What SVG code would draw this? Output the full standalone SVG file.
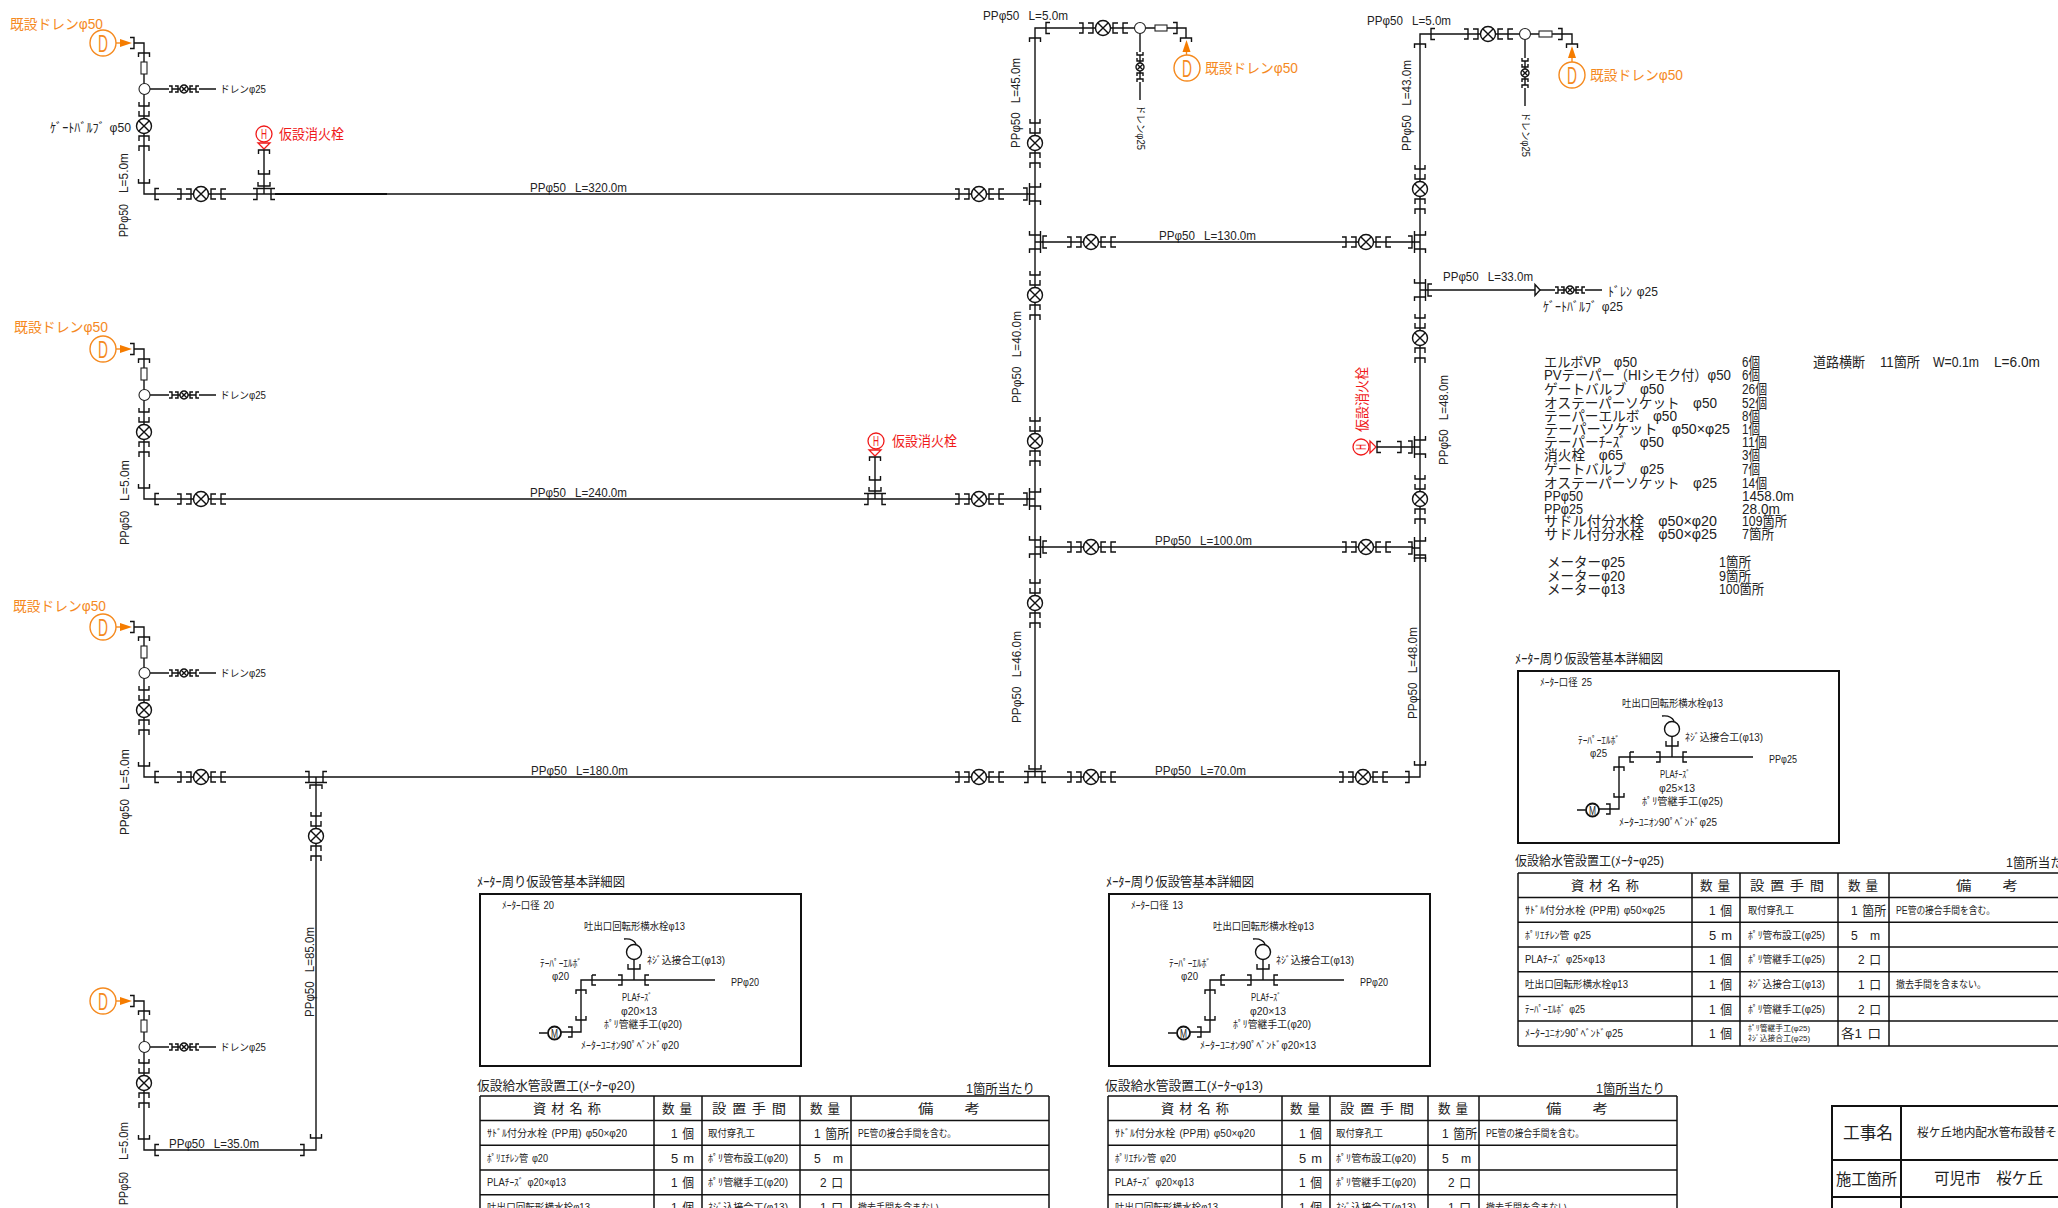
<svg xmlns="http://www.w3.org/2000/svg" width="2058" height="1208" viewBox="0 0 2058 1208">
<style>
text{font-family:"Liberation Sans","Noto Sans CJK JP",sans-serif;fill:#222;dominant-baseline:central;font-size:13px;white-space:pre;word-spacing:1.5px}
.k{fill:none;stroke:#111;stroke-width:1.4}
.w{fill:#fff;stroke:#222;stroke-width:1.1}
.o{fill:none;stroke:#f58a1f;stroke-width:1.4}
.of{fill:#f57c00}
.or{fill:#f58a1f;font-size:14px}
.rd{fill:none;stroke:#f01a1a;stroke-width:1.3}
.red{fill:#f01a1a;font-size:14px}
.s{font-size:10px}
.m{font-size:14px}
.dd{font-size:24px;fill:#f58a1f}
.hh{font-size:14px;fill:#f01a1a}
.mm{font-size:13px}
.f{fill:none;stroke:#111;stroke-width:1.5}
.b{fill:none;stroke:#111;stroke-width:2}
</style>
<defs>
<path id="b" class="k" d="M4 -5.5H0V5.5H4"/>
<g id="v">
<path class="k" d="M-24 -5H-20V5H-24M-15 -5H-10V5H-15M-20 0H-7.5M7.5 0H20M15 -5H10V5H15M25 -5H20V5H25"/>
<circle class="k" r="7.5" style="fill:#fff"/><path class="k" d="M-5.3 -5.3L5.3 5.3M-5.3 5.3L5.3 -5.3"/>
</g>
<g id="vs">
<path class="k" d="M-15 -3H-12V3H-15M-9 -3H-6V3H-9M-12 0H-4M4 0H12M9 -3H6V3H9M15 -3H12V3H15"/>
<circle class="k" r="4" style="fill:#fff"/><path class="k" d="M-2.8 -2.8L2.8 2.8M-2.8 2.8L2.8 -2.8"/>
</g>
<path id="tee" class="k" d="M-11 -5.5H-7V5.5H-11M11 -5.5H7V5.5H11M-7 0H7M-7 -5.5H7M0 0V-8M-6 -12V-8H6V-12"/>
<g id="head">
<circle class="o" cx="-41" r="13"/>
<path class="o" d="M-28 0H-22"/><path class="of" d="M-24 -4L-12 0L-24 4Z"/>
<use href="#b" transform="translate(-10,0) rotate(180)"/>
<use href="#b" transform="translate(0,10) rotate(90)"/>
<path class="k" d="M-10 0H0V19M0 31V41M0 51V63"/>
<rect class="w" x="-3" y="19" width="6" height="12"/>
<circle class="w" cx="0.5" cy="46" r="5.5"/>
</g>
<g id="art">
<rect class="b" width="321" height="172"/>
<circle class="k" cx="154" cy="58" r="7.5"/>
<path class="k" d="M144 45Q153 44 156 50M154 65.5V86M148 70V75H160V70M101 98V86H165M112 81H116M165 86H235M112 81V91H116M138 81H142V91H138M169 81H165V91H169M96 100V96H106V100M101 96V138H88M96 122V126H106V122M88 133H92V143H88M81 138H88M59 139H67.5"/>
<circle class="k" cx="74.500" cy="139" r="6.500" style="stroke-width:1.800"/>
</g>
<g id="tbl">
<path class="f" d="M0 0H569M0 24.500H569M0 49.200H569M0 74H569M0 98.700H569M0 123.400H569M0 148H569M0 173H569M0 0V173M174 0V173M222 0V173M320 0V173M371 0V173M569 0V173"/>
</g>
<g id="tblh">
<text x="53" y="12.500" textLength="68" lengthAdjust="spacingAndGlyphs">資 材 名 称</text>
<text x="182" y="12.500" textLength="30" lengthAdjust="spacingAndGlyphs">数 量</text>
<text x="232" y="12.500" textLength="74" lengthAdjust="spacingAndGlyphs">設 置 手 間</text>
<text x="330" y="12.500" textLength="30" lengthAdjust="spacingAndGlyphs">数 量</text>
<text x="438" y="12.500" textLength="62" lengthAdjust="spacingAndGlyphs">備　　考</text>
</g>
</defs>

<g id="connectors">
<path class="k" d="M144 146V194H181M221 194H257M271 194H959M999 194H1028
M144 452V499H181M221 499H868M882 499H959M999 499H1028
M144 730V777H181M221 777H309M323 777H959M999 777H1028M1042 777H1071M1111 777H1343M1383 777H1420V555
M144 1103V1150H316V856M316 816V785
M1042 242H1071M1111 242H1346M1386 242H1413
M1042 547H1071M1111 547H1346M1386 547H1413
M1035 123V28H1083M1123 28H1134.500M1145.500 28H1155M1167 28H1186V38M1140 33V52M1140 82V100
M1035 163V187M1035 201V235M1035 249V275M1035 315V421M1035 461V492M1035 506V540M1035 554V583M1035 623V769
M1420 169V34H1468M1508 34H1519.500M1530.500 34H1539M1552 34H1572V44M1525 39.500V58M1525 88V106
M1420 209V235M1420 249V283M1420 297V318M1420 358V440M1420 454V479M1420 519V541
M1428 290H1535M1540 290H1555M1585 290H1602
M150 89H169M199 89H216M150 395H169M199 395H216M150 673H169M199 673H216M150 1047H169M199 1047H216
M264 150V186M875 457V491M1377 447H1412"/>
<path class="b" d="M275 194H387"/>
</g>

<g id="head1" transform="translate(144,43)"><use href="#head"/><text class="dd" x="-46" y="0" textLength="10" lengthAdjust="spacingAndGlyphs">D</text></g>
<g id="head2" transform="translate(144,349)"><use href="#head"/><text class="dd" x="-46" y="0" textLength="10" lengthAdjust="spacingAndGlyphs">D</text></g>
<g id="head3" transform="translate(144,627)"><use href="#head"/><text class="dd" x="-46" y="0" textLength="10" lengthAdjust="spacingAndGlyphs">D</text></g>
<g id="head4" transform="translate(144,1001)"><use href="#head"/><text class="dd" x="-46" y="0" textLength="10" lengthAdjust="spacingAndGlyphs">D</text></g>

<g id="head5">
<use href="#b" transform="translate(1177,28) rotate(180)"/><use href="#b" transform="translate(1186,38) rotate(90)"/>
<rect class="w" x="1155" y="25" width="12" height="6"/><circle class="w" cx="1140" cy="28" r="5.500"/>
<path class="o" d="M1186.500 50V55"/><path class="of" d="M1182.500 52L1186.500 40L1190.500 52Z"/>
<circle class="o" cx="1187" cy="68" r="13"/><text class="dd" x="1182" y="68" textLength="10" lengthAdjust="spacingAndGlyphs">D</text>
</g>
<g id="head6">
<use href="#b" transform="translate(1562,34) rotate(180)"/><use href="#b" transform="translate(1572,44) rotate(90)"/>
<rect class="w" x="1539" y="31" width="13" height="6"/><circle class="w" cx="1525" cy="34" r="5.500"/>
<path class="o" d="M1572 56V62"/><path class="of" d="M1568 58L1572 46L1576 58Z"/>
<circle class="o" cx="1572" cy="75" r="13"/><text class="dd" x="1567" y="75" textLength="10" lengthAdjust="spacingAndGlyphs">D</text>
</g>

<g id="valves">
<use href="#v" transform="translate(201,194)"/><use href="#v" transform="translate(979,194)"/>
<use href="#v" transform="translate(1091,242)"/><use href="#v" transform="translate(1366,242)"/>
<use href="#v" transform="translate(201,499)"/><use href="#v" transform="translate(979,499)"/>
<use href="#v" transform="translate(1091,547)"/><use href="#v" transform="translate(1366,547)"/>
<use href="#v" transform="translate(201,777)"/><use href="#v" transform="translate(979,777)"/>
<use href="#v" transform="translate(1091,777)"/><use href="#v" transform="translate(1363,777)"/>
<use href="#v" transform="translate(1103,28)"/><use href="#v" transform="translate(1488,34)"/>
<use href="#v" transform="translate(144,126) rotate(90)"/><use href="#v" transform="translate(144,432) rotate(90)"/>
<use href="#v" transform="translate(144,710) rotate(90)"/><use href="#v" transform="translate(144,1083) rotate(90)"/>
<use href="#v" transform="translate(1035,143) rotate(90)"/><use href="#v" transform="translate(1035,295) rotate(90)"/>
<use href="#v" transform="translate(1035,441) rotate(90)"/><use href="#v" transform="translate(1035,603) rotate(90)"/>
<use href="#v" transform="translate(316,836) rotate(90)"/><use href="#v" transform="translate(1420,189) rotate(90)"/>
<use href="#v" transform="translate(1420,338) rotate(90)"/><use href="#v" transform="translate(1420,499) rotate(90)"/>
<use href="#vs" transform="translate(184,89)"/><use href="#vs" transform="translate(184,395)"/>
<use href="#vs" transform="translate(184,673)"/><use href="#vs" transform="translate(184,1047)"/>
<use href="#vs" transform="translate(1570,290)"/><use href="#vs" transform="translate(1140,67) rotate(90)"/>
<use href="#vs" transform="translate(1525,73) rotate(90)"/>
<path class="k" d="M1535 284.500L1540 290L1535 295.500Z"/>
</g>

<g id="tees">
<use href="#tee" transform="translate(264,194)"/><use href="#tee" transform="translate(1035,194) rotate(-90)"/>
<use href="#tee" transform="translate(1035,242) rotate(90)"/><use href="#tee" transform="translate(1420,242) rotate(-90)"/>
<use href="#tee" transform="translate(1420,290) rotate(90)"/><use href="#tee" transform="translate(875,499)"/>
<use href="#tee" transform="translate(1035,499) rotate(-90)"/><use href="#tee" transform="translate(1035,547) rotate(90)"/>
<use href="#tee" transform="translate(1420,447) rotate(-90)"/><use href="#tee" transform="translate(1420,548) rotate(-90)"/>
<use href="#tee" transform="translate(316,777) rotate(180)"/><use href="#tee" transform="translate(1035,777)"/>
</g>

<g id="sockets">
<use href="#b" transform="translate(155,194)"/><use href="#b" transform="translate(144,183) rotate(-90)"/>
<use href="#b" transform="translate(155,499)"/><use href="#b" transform="translate(144,488) rotate(-90)"/>
<use href="#b" transform="translate(155,777)"/><use href="#b" transform="translate(144,766) rotate(-90)"/>
<use href="#b" transform="translate(155,1150)"/><use href="#b" transform="translate(144,1139) rotate(-90)"/>
<use href="#b" transform="translate(304,1150) rotate(180)"/><use href="#b" transform="translate(316,1138) rotate(-90)"/>
<use href="#b" transform="translate(1046,28)"/><use href="#b" transform="translate(1035,38) rotate(90)"/>
<use href="#b" transform="translate(1431,34)"/><use href="#b" transform="translate(1420,44) rotate(90)"/>
<use href="#b" transform="translate(1409,777) rotate(180)"/><use href="#b" transform="translate(1420,765) rotate(-90)"/>
<use href="#b" transform="translate(1420,558) rotate(90)"/>
</g>

<g id="hydrant1">
<circle class="rd" cx="264" cy="134" r="8"/><text class="hh" x="261" y="134" textLength="6" lengthAdjust="spacingAndGlyphs">H</text>
<path class="rd" d="M258 143H270L264 149Z"/>
<use href="#b" transform="translate(264,150) rotate(90)"/><use href="#b" transform="translate(264,174) rotate(-90)"/>
</g>
<g id="hydrant2">
<circle class="rd" cx="876" cy="441" r="8"/><text class="hh" x="873" y="441" textLength="6" lengthAdjust="spacingAndGlyphs">H</text>
<path class="rd" d="M869 450H881L875 456Z"/>
<use href="#b" transform="translate(875,457) rotate(90)"/><use href="#b" transform="translate(875,480) rotate(-90)"/>
</g>
<g id="hydrant3">
<circle class="rd" cx="1361" cy="447" r="8"/><text class="hh" transform="translate(1361,450) rotate(-90)" textLength="6" lengthAdjust="spacingAndGlyphs">H</text>
<path class="rd" d="M1370 441V453L1376 447Z"/>
<use href="#b" transform="translate(1377,447)"/><use href="#b" transform="translate(1401,447) rotate(180)"/>
</g>

<g id="labels-pipe">
<text x="10" y="24" class="or" textLength="93" lengthAdjust="spacingAndGlyphs">既設ドレンφ50</text>
<text x="14" y="327" class="or" textLength="94" lengthAdjust="spacingAndGlyphs">既設ドレンφ50</text>
<text x="13" y="606" class="or" textLength="93" lengthAdjust="spacingAndGlyphs">既設ドレンφ50</text>
<text x="1205" y="68" class="or" textLength="93" lengthAdjust="spacingAndGlyphs">既設ドレンφ50</text>
<text x="1590" y="75" class="or" textLength="93" lengthAdjust="spacingAndGlyphs">既設ドレンφ50</text>
<text x="279" y="134" class="red" textLength="65" lengthAdjust="spacingAndGlyphs">仮設消火栓</text>
<text x="892" y="441" class="red" textLength="65" lengthAdjust="spacingAndGlyphs">仮設消火栓</text>
<text transform="translate(1362,432) rotate(-90)" class="red" textLength="65" lengthAdjust="spacingAndGlyphs">仮設消火栓</text>

<text x="50" y="127" textLength="81" lengthAdjust="spacingAndGlyphs">ｹﾞｰﾄﾊﾞﾙﾌﾞ φ50</text>
<text x="220" y="89" class="s" textLength="46" lengthAdjust="spacingAndGlyphs">ドレンφ25</text>
<text x="220" y="395" class="s" textLength="46" lengthAdjust="spacingAndGlyphs">ドレンφ25</text>
<text x="220" y="673" class="s" textLength="46" lengthAdjust="spacingAndGlyphs">ドレンφ25</text>
<text x="220" y="1047" class="s" textLength="46" lengthAdjust="spacingAndGlyphs">ドレンφ25</text>
<text transform="translate(1140,105) rotate(90)" class="s" textLength="45" lengthAdjust="spacingAndGlyphs">ドレンφ25</text>
<text transform="translate(1525,112) rotate(90)" class="s" textLength="45" lengthAdjust="spacingAndGlyphs">ドレンφ25</text>
<text x="1608" y="291" textLength="50" lengthAdjust="spacingAndGlyphs">ﾄﾞﾚﾝ φ25</text>
<text x="1543" y="306" textLength="80" lengthAdjust="spacingAndGlyphs">ｹﾞｰﾄﾊﾞﾙﾌﾞ φ25</text>

<text x="530" y="187" textLength="97" lengthAdjust="spacingAndGlyphs">PPφ50  L=320.0m</text>
<text x="530" y="492" textLength="97" lengthAdjust="spacingAndGlyphs">PPφ50  L=240.0m</text>
<text x="531" y="770" textLength="97" lengthAdjust="spacingAndGlyphs">PPφ50  L=180.0m</text>
<text x="1159" y="235" textLength="97" lengthAdjust="spacingAndGlyphs">PPφ50  L=130.0m</text>
<text x="1155" y="540" textLength="97" lengthAdjust="spacingAndGlyphs">PPφ50  L=100.0m</text>
<text x="1155" y="770" textLength="91" lengthAdjust="spacingAndGlyphs">PPφ50  L=70.0m</text>
<text x="169" y="1143" textLength="90" lengthAdjust="spacingAndGlyphs">PPφ50  L=35.0m</text>
<text x="983" y="15" textLength="85" lengthAdjust="spacingAndGlyphs">PPφ50  L=5.0m</text>
<text x="1367" y="20" textLength="84" lengthAdjust="spacingAndGlyphs">PPφ50  L=5.0m</text>
<text x="1443" y="276" textLength="90" lengthAdjust="spacingAndGlyphs">PPφ50  L=33.0m</text>

<text transform="translate(1015,148) rotate(-90)" textLength="90" lengthAdjust="spacingAndGlyphs">PPφ50  L=45.0m</text>
<text transform="translate(1016,403) rotate(-90)" textLength="92" lengthAdjust="spacingAndGlyphs">PPφ50  L=40.0m</text>
<text transform="translate(1016,723) rotate(-90)" textLength="92" lengthAdjust="spacingAndGlyphs">PPφ50  L=46.0m</text>
<text transform="translate(1406,151) rotate(-90)" textLength="91" lengthAdjust="spacingAndGlyphs">PPφ50  L=43.0m</text>
<text transform="translate(1443,465) rotate(-90)" textLength="90" lengthAdjust="spacingAndGlyphs">PPφ50  L=48.0m</text>
<text transform="translate(1412,719) rotate(-90)" textLength="92" lengthAdjust="spacingAndGlyphs">PPφ50  L=48.0m</text>
<text transform="translate(309,1017) rotate(-90)" textLength="90" lengthAdjust="spacingAndGlyphs">PPφ50  L=85.0m</text>

<text transform="translate(123,193) rotate(-90)" textLength="40" lengthAdjust="spacingAndGlyphs">L=5.0m</text>
<text transform="translate(123,237) rotate(-90)" textLength="33" lengthAdjust="spacingAndGlyphs">PPφ50</text>
<text transform="translate(124,501) rotate(-90)" textLength="41" lengthAdjust="spacingAndGlyphs">L=5.0m</text>
<text transform="translate(124,545) rotate(-90)" textLength="34" lengthAdjust="spacingAndGlyphs">PPφ50</text>
<text transform="translate(124,790) rotate(-90)" textLength="41" lengthAdjust="spacingAndGlyphs">L=5.0m</text>
<text transform="translate(124,835) rotate(-90)" textLength="36" lengthAdjust="spacingAndGlyphs">PPφ50</text>
<text transform="translate(123,1160) rotate(-90)" textLength="38" lengthAdjust="spacingAndGlyphs">L=5.0m</text>
<text transform="translate(123,1205) rotate(-90)" textLength="33" lengthAdjust="spacingAndGlyphs">PPφ50</text>
</g>

<g id="bill">
<text class="m" x="1544" y="362" textLength="93" lengthAdjust="spacingAndGlyphs">エルボVP　φ50</text>
<text class="m" x="1544" y="375" textLength="187" lengthAdjust="spacingAndGlyphs">PVテーパー（HIシモク付）φ50</text>
<text class="m" x="1544" y="388.500" textLength="120" lengthAdjust="spacingAndGlyphs">ゲートバルブ　φ50</text>
<text class="m" x="1544" y="403" textLength="173" lengthAdjust="spacingAndGlyphs">オステーパーソケット　φ50</text>
<text class="m" x="1544" y="416" textLength="133" lengthAdjust="spacingAndGlyphs">テーパーエルボ　φ50</text>
<text class="m" x="1544" y="429" textLength="186" lengthAdjust="spacingAndGlyphs">テーパーソケット　φ50×φ25</text>
<text class="m" x="1544" y="442" textLength="120" lengthAdjust="spacingAndGlyphs">テーパーﾁｰｽﾞ　φ50</text>
<text class="m" x="1544" y="455" textLength="79" lengthAdjust="spacingAndGlyphs">消火栓　φ65</text>
<text class="m" x="1544" y="468.500" textLength="120" lengthAdjust="spacingAndGlyphs">ゲートバルブ　φ25</text>
<text class="m" x="1544" y="483" textLength="173" lengthAdjust="spacingAndGlyphs">オステーパーソケット　φ25</text>
<text class="m" x="1544" y="496" textLength="39" lengthAdjust="spacingAndGlyphs">PPφ50</text>
<text class="m" x="1544" y="509" textLength="39" lengthAdjust="spacingAndGlyphs">PPφ25</text>
<text class="m" x="1544" y="521" textLength="173" lengthAdjust="spacingAndGlyphs">サドル付分水栓　φ50×φ20</text>
<text class="m" x="1544" y="534" textLength="173" lengthAdjust="spacingAndGlyphs">サドル付分水栓　φ50×φ25</text>
<text class="m" x="1742" y="362" textLength="18" lengthAdjust="spacingAndGlyphs">6個</text>
<text class="m" x="1742" y="375" textLength="18" lengthAdjust="spacingAndGlyphs">6個</text>
<text class="m" x="1742" y="388.500" textLength="25" lengthAdjust="spacingAndGlyphs">26個</text>
<text class="m" x="1742" y="403" textLength="25" lengthAdjust="spacingAndGlyphs">52個</text>
<text class="m" x="1742" y="416" textLength="18" lengthAdjust="spacingAndGlyphs">8個</text>
<text class="m" x="1742" y="429" textLength="18" lengthAdjust="spacingAndGlyphs">1個</text>
<text class="m" x="1742" y="442" textLength="25" lengthAdjust="spacingAndGlyphs">11個</text>
<text class="m" x="1742" y="455" textLength="18" lengthAdjust="spacingAndGlyphs">3個</text>
<text class="m" x="1742" y="468.500" textLength="18" lengthAdjust="spacingAndGlyphs">7個</text>
<text class="m" x="1742" y="483" textLength="25" lengthAdjust="spacingAndGlyphs">14個</text>
<text class="m" x="1742" y="496" textLength="52" lengthAdjust="spacingAndGlyphs">1458.0m</text>
<text class="m" x="1742" y="509" textLength="38" lengthAdjust="spacingAndGlyphs">28.0m</text>
<text class="m" x="1742" y="521" textLength="45" lengthAdjust="spacingAndGlyphs">109箇所</text>
<text class="m" x="1742" y="534" textLength="32" lengthAdjust="spacingAndGlyphs">7箇所</text>
<text class="m" x="1813" y="362" textLength="52" lengthAdjust="spacingAndGlyphs">道路横断</text>
<text class="m" x="1880" y="362" textLength="40" lengthAdjust="spacingAndGlyphs">11箇所</text>
<text class="m" x="1933" y="362" textLength="46" lengthAdjust="spacingAndGlyphs">W=0.1m</text>
<text class="m" x="1994" y="362" textLength="46" lengthAdjust="spacingAndGlyphs">L=6.0m</text>
<text class="m" x="1547" y="562" textLength="78" lengthAdjust="spacingAndGlyphs">メーターφ25</text>
<text class="m" x="1547" y="576" textLength="78" lengthAdjust="spacingAndGlyphs">メーターφ20</text>
<text class="m" x="1547" y="589" textLength="78" lengthAdjust="spacingAndGlyphs">メーターφ13</text>
<text class="m" x="1719" y="562" textLength="32" lengthAdjust="spacingAndGlyphs">1箇所</text>
<text class="m" x="1719" y="576" textLength="32" lengthAdjust="spacingAndGlyphs">9箇所</text>
<text class="m" x="1719" y="589" textLength="45" lengthAdjust="spacingAndGlyphs">100箇所</text>
</g>

<g id="detail25" transform="translate(1518,671)">
<text x="-3" y="-13" textLength="148" lengthAdjust="spacingAndGlyphs">ﾒｰﾀｰ周り仮設管基本詳細図</text>
<use href="#art"/>
<text class="mm" x="71" y="139" textLength="7" lengthAdjust="spacingAndGlyphs">M</text>
<text class="s" x="22" y="11" textLength="52" lengthAdjust="spacingAndGlyphs">ﾒｰﾀｰ口径 25</text>
<text class="s" x="104" y="32" textLength="101" lengthAdjust="spacingAndGlyphs">吐出口回転形横水栓φ13</text>
<text class="s" x="60" y="69" textLength="42" lengthAdjust="spacingAndGlyphs">ﾃｰﾊﾟｰｴﾙﾎﾞ</text>
<text class="s" x="72" y="82" textLength="17" lengthAdjust="spacingAndGlyphs">φ25</text>
<text class="s" x="167" y="66" textLength="78" lengthAdjust="spacingAndGlyphs">ﾈｼﾞ込接合工(φ13)</text>
<text class="s" x="142" y="103" textLength="30" lengthAdjust="spacingAndGlyphs">PLAﾁｰｽﾞ</text>
<text class="s" x="141" y="117" textLength="36" lengthAdjust="spacingAndGlyphs">φ25×13</text>
<text class="s" x="124" y="130" textLength="81" lengthAdjust="spacingAndGlyphs">ﾎﾟﾘ管継手工(φ25)</text>
<text class="s" x="101" y="151" textLength="98" lengthAdjust="spacingAndGlyphs">ﾒｰﾀｰﾕﾆｵﾝ90ﾟﾍﾞﾝﾄﾞφ25</text>
<text class="s" x="251" y="88" textLength="28" lengthAdjust="spacingAndGlyphs">PPφ25</text>
</g>
<g id="detail20" transform="translate(480,894)">
<text x="-3" y="-13" textLength="148" lengthAdjust="spacingAndGlyphs">ﾒｰﾀｰ周り仮設管基本詳細図</text>
<use href="#art"/>
<text class="mm" x="71" y="139" textLength="7" lengthAdjust="spacingAndGlyphs">M</text>
<text class="s" x="22" y="11" textLength="52" lengthAdjust="spacingAndGlyphs">ﾒｰﾀｰ口径 20</text>
<text class="s" x="104" y="32" textLength="101" lengthAdjust="spacingAndGlyphs">吐出口回転形横水栓φ13</text>
<text class="s" x="60" y="69" textLength="42" lengthAdjust="spacingAndGlyphs">ﾃｰﾊﾟｰｴﾙﾎﾞ</text>
<text class="s" x="72" y="82" textLength="17" lengthAdjust="spacingAndGlyphs">φ20</text>
<text class="s" x="167" y="66" textLength="78" lengthAdjust="spacingAndGlyphs">ﾈｼﾞ込接合工(φ13)</text>
<text class="s" x="142" y="103" textLength="30" lengthAdjust="spacingAndGlyphs">PLAﾁｰｽﾞ</text>
<text class="s" x="141" y="117" textLength="36" lengthAdjust="spacingAndGlyphs">φ20×13</text>
<text class="s" x="124" y="130" textLength="78" lengthAdjust="spacingAndGlyphs">ﾎﾟﾘ管継手工(φ20)</text>
<text class="s" x="101" y="151" textLength="98" lengthAdjust="spacingAndGlyphs">ﾒｰﾀｰﾕﾆｵﾝ90ﾟﾍﾞﾝﾄﾞφ20</text>
<text class="s" x="251" y="88" textLength="28" lengthAdjust="spacingAndGlyphs">PPφ20</text>
</g>
<g id="detail13" transform="translate(1109,894)">
<text x="-3" y="-13" textLength="148" lengthAdjust="spacingAndGlyphs">ﾒｰﾀｰ周り仮設管基本詳細図</text>
<use href="#art"/>
<text class="mm" x="71" y="139" textLength="7" lengthAdjust="spacingAndGlyphs">M</text>
<text class="s" x="22" y="11" textLength="52" lengthAdjust="spacingAndGlyphs">ﾒｰﾀｰ口径 13</text>
<text class="s" x="104" y="32" textLength="101" lengthAdjust="spacingAndGlyphs">吐出口回転形横水栓φ13</text>
<text class="s" x="60" y="69" textLength="42" lengthAdjust="spacingAndGlyphs">ﾃｰﾊﾟｰｴﾙﾎﾞ</text>
<text class="s" x="72" y="82" textLength="17" lengthAdjust="spacingAndGlyphs">φ20</text>
<text class="s" x="167" y="66" textLength="78" lengthAdjust="spacingAndGlyphs">ﾈｼﾞ込接合工(φ13)</text>
<text class="s" x="142" y="103" textLength="30" lengthAdjust="spacingAndGlyphs">PLAﾁｰｽﾞ</text>
<text class="s" x="141" y="117" textLength="36" lengthAdjust="spacingAndGlyphs">φ20×13</text>
<text class="s" x="124" y="130" textLength="78" lengthAdjust="spacingAndGlyphs">ﾎﾟﾘ管継手工(φ20)</text>
<text class="s" x="91" y="151" textLength="116" lengthAdjust="spacingAndGlyphs">ﾒｰﾀｰﾕﾆｵﾝ90ﾟﾍﾞﾝﾄﾞφ20×13</text>
<text class="s" x="251" y="88" textLength="28" lengthAdjust="spacingAndGlyphs">PPφ20</text>
</g>

<g id="table25" transform="translate(1518,873)">
<text x="-3" y="-13" textLength="149" lengthAdjust="spacingAndGlyphs">仮設給水管設置工(ﾒｰﾀｰφ25)</text>
<text x="488" y="-11" textLength="69" lengthAdjust="spacingAndGlyphs">1箇所当たり</text>
<use href="#tbl"/><use href="#tblh"/>
<text class="s" x="7" y="37" textLength="140" lengthAdjust="spacingAndGlyphs">ｻﾄﾞﾙ付分水栓 (PP用) φ50×φ25</text>
<text class="s" x="7" y="62" textLength="66" lengthAdjust="spacingAndGlyphs">ﾎﾟﾘｴﾁﾚﾝ管 φ25</text>
<text class="s" x="7" y="86.500" textLength="80" lengthAdjust="spacingAndGlyphs">PLAﾁｰｽﾞ φ25×φ13</text>
<text class="s" x="7" y="111" textLength="103" lengthAdjust="spacingAndGlyphs">吐出口回転形横水栓φ13</text>
<text class="s" x="7" y="136" textLength="60" lengthAdjust="spacingAndGlyphs">ﾃｰﾊﾟｰｴﾙﾎﾞ φ25</text>
<text class="s" x="7" y="160.500" textLength="98" lengthAdjust="spacingAndGlyphs">ﾒｰﾀｰﾕﾆｵﾝ90ﾟﾍﾞﾝﾄﾞφ25</text>
<text x="191" y="37" textLength="23" lengthAdjust="spacingAndGlyphs">1 個</text>
<text x="191" y="62" textLength="23" lengthAdjust="spacingAndGlyphs">5 m</text>
<text x="191" y="86.500" textLength="23" lengthAdjust="spacingAndGlyphs">1 個</text>
<text x="191" y="111" textLength="23" lengthAdjust="spacingAndGlyphs">1 個</text>
<text x="191" y="136" textLength="23" lengthAdjust="spacingAndGlyphs">1 個</text>
<text x="191" y="160.500" textLength="23" lengthAdjust="spacingAndGlyphs">1 個</text>
<text class="s" x="230" y="37" textLength="46" lengthAdjust="spacingAndGlyphs">取付穿孔工</text>
<text class="s" x="230" y="62" textLength="77" lengthAdjust="spacingAndGlyphs">ﾎﾟﾘ管布設工(φ25)</text>
<text class="s" x="230" y="86.500" textLength="77" lengthAdjust="spacingAndGlyphs">ﾎﾟﾘ管継手工(φ25)</text>
<text class="s" x="230" y="111" textLength="77" lengthAdjust="spacingAndGlyphs">ﾈｼﾞ込接合工(φ13)</text>
<text class="s" x="230" y="136" textLength="77" lengthAdjust="spacingAndGlyphs">ﾎﾟﾘ管継手工(φ25)</text>
<text x="230" y="155" style="font-size:8px" textLength="62" lengthAdjust="spacingAndGlyphs">ﾎﾟﾘ管継手工(φ25)</text>
<text x="230" y="165" style="font-size:8px" textLength="62" lengthAdjust="spacingAndGlyphs">ﾈｼﾞ込接合工(φ25)</text>
<text x="333" y="37" textLength="35" lengthAdjust="spacingAndGlyphs">1 箇所</text>
<text x="333" y="62" textLength="29" lengthAdjust="spacingAndGlyphs">5　m</text>
<text x="340" y="86.500" textLength="23" lengthAdjust="spacingAndGlyphs">2 口</text>
<text x="340" y="111" textLength="23" lengthAdjust="spacingAndGlyphs">1 口</text>
<text x="340" y="136" textLength="23" lengthAdjust="spacingAndGlyphs">2 口</text>
<text x="323" y="160.500" textLength="40" lengthAdjust="spacingAndGlyphs">各1 口</text>
<text class="s" x="378" y="37" textLength="99" lengthAdjust="spacingAndGlyphs">PE管の接合手間を含む。</text>
<text class="s" x="378" y="111" textLength="90" lengthAdjust="spacingAndGlyphs">撤去手間を含まない。</text>
</g>

<g id="table20" transform="translate(480,1096)">
<text x="-3" y="-11" textLength="158" lengthAdjust="spacingAndGlyphs">仮設給水管設置工(ﾒｰﾀｰφ20)</text>
<text x="486" y="-8" textLength="69" lengthAdjust="spacingAndGlyphs">1箇所当たり</text>
<use href="#tbl"/><use href="#tblh"/>
<text class="s" x="7" y="37" textLength="140" lengthAdjust="spacingAndGlyphs">ｻﾄﾞﾙ付分水栓 (PP用) φ50×φ20</text>
<text class="s" x="7" y="62" textLength="61" lengthAdjust="spacingAndGlyphs">ﾎﾟﾘｴﾁﾚﾝ管 φ20</text>
<text class="s" x="7" y="86.500" textLength="79" lengthAdjust="spacingAndGlyphs">PLAﾁｰｽﾞ φ20×φ13</text>
<text class="s" x="7" y="111" textLength="103" lengthAdjust="spacingAndGlyphs">吐出口回転形横水栓φ13</text>
<text x="191" y="37" textLength="23" lengthAdjust="spacingAndGlyphs">1 個</text>
<text x="191" y="62" textLength="23" lengthAdjust="spacingAndGlyphs">5 m</text>
<text x="191" y="86.500" textLength="23" lengthAdjust="spacingAndGlyphs">1 個</text>
<text x="191" y="111" textLength="23" lengthAdjust="spacingAndGlyphs">1 個</text>
<text class="s" x="228" y="37" textLength="47" lengthAdjust="spacingAndGlyphs">取付穿孔工</text>
<text class="s" x="228" y="62" textLength="80" lengthAdjust="spacingAndGlyphs">ﾎﾟﾘ管布設工(φ20)</text>
<text class="s" x="228" y="86.500" textLength="80" lengthAdjust="spacingAndGlyphs">ﾎﾟﾘ管継手工(φ20)</text>
<text class="s" x="228" y="111" textLength="80" lengthAdjust="spacingAndGlyphs">ﾈｼﾞ込接合工(φ13)</text>
<text x="334" y="37" textLength="35" lengthAdjust="spacingAndGlyphs">1 箇所</text>
<text x="334" y="62" textLength="29" lengthAdjust="spacingAndGlyphs">5　m</text>
<text x="340" y="86.500" textLength="23" lengthAdjust="spacingAndGlyphs">2 口</text>
<text x="340" y="111" textLength="23" lengthAdjust="spacingAndGlyphs">1 口</text>
<text class="s" x="378" y="37" textLength="98" lengthAdjust="spacingAndGlyphs">PE管の接合手間を含む。</text>
<text class="s" x="378" y="111" textLength="90" lengthAdjust="spacingAndGlyphs">撤去手間を含まない。</text>
</g>

<g id="table13" transform="translate(1108,1096)">
<text x="-3" y="-11" textLength="158" lengthAdjust="spacingAndGlyphs">仮設給水管設置工(ﾒｰﾀｰφ13)</text>
<text x="488" y="-8" textLength="69" lengthAdjust="spacingAndGlyphs">1箇所当たり</text>
<use href="#tbl"/><use href="#tblh"/>
<text class="s" x="7" y="37" textLength="140" lengthAdjust="spacingAndGlyphs">ｻﾄﾞﾙ付分水栓 (PP用) φ50×φ20</text>
<text class="s" x="7" y="62" textLength="61" lengthAdjust="spacingAndGlyphs">ﾎﾟﾘｴﾁﾚﾝ管 φ20</text>
<text class="s" x="7" y="86.500" textLength="79" lengthAdjust="spacingAndGlyphs">PLAﾁｰｽﾞ φ20×φ13</text>
<text class="s" x="7" y="111" textLength="103" lengthAdjust="spacingAndGlyphs">吐出口回転形横水栓φ13</text>
<text x="191" y="37" textLength="23" lengthAdjust="spacingAndGlyphs">1 個</text>
<text x="191" y="62" textLength="23" lengthAdjust="spacingAndGlyphs">5 m</text>
<text x="191" y="86.500" textLength="23" lengthAdjust="spacingAndGlyphs">1 個</text>
<text x="191" y="111" textLength="23" lengthAdjust="spacingAndGlyphs">1 個</text>
<text class="s" x="228" y="37" textLength="47" lengthAdjust="spacingAndGlyphs">取付穿孔工</text>
<text class="s" x="228" y="62" textLength="80" lengthAdjust="spacingAndGlyphs">ﾎﾟﾘ管布設工(φ20)</text>
<text class="s" x="228" y="86.500" textLength="80" lengthAdjust="spacingAndGlyphs">ﾎﾟﾘ管継手工(φ20)</text>
<text class="s" x="228" y="111" textLength="80" lengthAdjust="spacingAndGlyphs">ﾈｼﾞ込接合工(φ13)</text>
<text x="334" y="37" textLength="35" lengthAdjust="spacingAndGlyphs">1 箇所</text>
<text x="334" y="62" textLength="29" lengthAdjust="spacingAndGlyphs">5　m</text>
<text x="340" y="86.500" textLength="23" lengthAdjust="spacingAndGlyphs">2 口</text>
<text x="340" y="111" textLength="23" lengthAdjust="spacingAndGlyphs">1 口</text>
<text class="s" x="378" y="37" textLength="98" lengthAdjust="spacingAndGlyphs">PE管の接合手間を含む。</text>
<text class="s" x="378" y="111" textLength="90" lengthAdjust="spacingAndGlyphs">撤去手間を含まない。</text>
</g>

<g id="titleblock">
<path class="b" d="M1832 1210V1106H2060M1832 1160H2060M1832 1197H2060M1901 1106V1210"/>
<text x="1843" y="1133" style="font-size:17px" textLength="50" lengthAdjust="spacingAndGlyphs">工事名</text>
<text x="1917" y="1133" style="font-size:12px" textLength="140" lengthAdjust="spacingAndGlyphs">桜ケ丘地内配水管布設替そ</text>
<text x="1836" y="1179" style="font-size:16px" textLength="61" lengthAdjust="spacingAndGlyphs">施工箇所</text>
<text x="1934" y="1178" style="font-size:16px" textLength="109" lengthAdjust="spacingAndGlyphs">可児市　桜ケ丘</text>
</g>
</svg>
